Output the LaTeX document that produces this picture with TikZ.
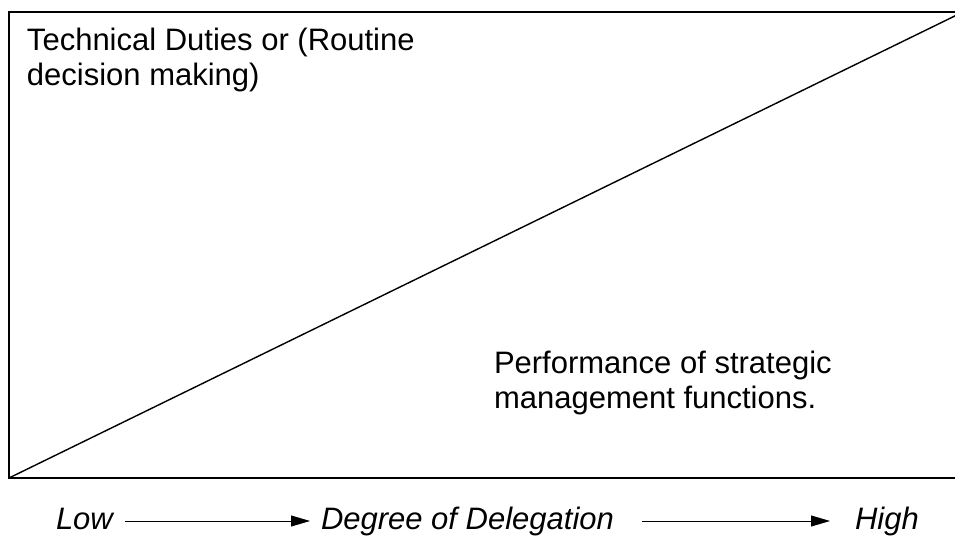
\documentclass[tikz,border=0pt]{standalone}
\usepackage{fontspec}
\setmainfont{Liberation Sans}
\usetikzlibrary{arrows.meta}
\begin{document}
\begin{tikzpicture}[x=1pt,y=1pt,
  lbl/.style={inner sep=0pt,outer sep=0pt,align=left,font=\fontsize{31}{35.5}\selectfont},
  axlbl/.style={inner sep=0pt,outer sep=0pt,font=\fontsize{31}{35.5}\selectfont\itshape},
  frame/.style={line width=1.8pt},
  diag/.style={line width=1.4pt},
  arr/.style={line width=0.9pt,-{Triangle[length=19pt,width=11pt]}}]
\useasboundingbox (0,0) rectangle (955,537);
\clip (0,0) rectangle (955,537);
\fill[white] (0,0) rectangle (955,537);
% frame and diagonal
\coordinate (bl) at (9,59);
\coordinate (tr) at (963,525);
\draw[frame] (bl) rectangle (tr);
\draw[diag] (bl) -- (tr);
% labels
\node[lbl,anchor=north west] (tech) at (27,509) {Technical Duties or (Routine\\decision making)};
\node[lbl,anchor=north west] (perf) at (494,186) {Performance of strategic\\management functions.};
% axis
\node[axlbl,anchor=base west] (low) at (56,7) {Low};
\node[axlbl,anchor=base west] (deg) at (321,7) {Degree of Delegation};
\node[axlbl,anchor=base west] (high) at (855,7) {High};
\draw[arr] ([xshift=12pt,yshift=9pt]low.base east) -- ([xshift=-11pt,yshift=9pt]deg.base west);
\draw[arr] ([xshift=28pt,yshift=9pt]deg.base east) -- ([xshift=-25pt,yshift=9pt]high.base west);
\end{tikzpicture}
\end{document}
